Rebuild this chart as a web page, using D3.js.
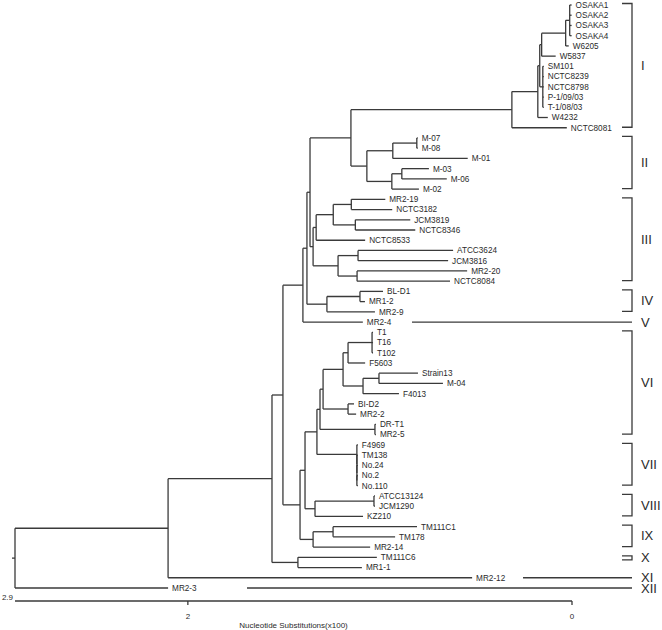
<!DOCTYPE html>
<html><head><meta charset="utf-8">
<script src="https://cdn.jsdelivr.net/npm/d3@7"></script>
<style>body{margin:0;background:#fff;} text{font-family:"Liberation Sans",Arial,sans-serif;}</style>
</head><body><svg id="c" width="662" height="630"></svg>
<script>
// Tree table: [id, parent, branch length (nucleotide substitutions x100)]
const treeNodes = [
["root","",0],
["A","root",0.797],
["B","A",0.541],
["C","B",0.057],
["Q","C",0.104],
["R","Q",0.021],
["S","R",0.016],
["N12","S",0.213],
["CI","N12",0.838],
["N1","CI",0.135],
["N2","N1",0.010],
["N3","N2",0.010],
["N4","N3",0.125],
["OSg","N4",0.021],
["OSAKA1","OSg",0.010],["OSAKA2","OSg",0.010],["OSAKA3","OSg",0.010],["OSAKA4","OSg",0.010],
["W6205","N4",0.016],
["W5837","N3",0.073],
["SMg","N2",0.016],
["SM101","SMg",0.005],["NCTC8239","SMg",0.005],["NCTC8798","SMg",0.005],["P-1/09/03","SMg",0.005],["T-1/08/03","SMg",0.005],
["W4232","N1",0.052],
["NCTC8081","CI",0.286],
["CII","N12",0.083],
["CIIa","CII",0.135],
["M78","CIIa",0.125],
["M-07","M78",0.005],["M-08","M78",0.005],
["M-01","CIIa",0.390],
["CIIb","CII",0.130],
["M36","CIIb",0.052],
["M-03","M36",0.141],["M-06","M36",0.234],
["M-02","CIIb",0.141],
["U","S",0.016],
["V","U",0.016],
["N333","V",0.089],
["Na","N333",0.094],["MR2-19","Na",0.177],["NCTC3182","Na",0.213],
["Nb","N333",0.115],["JCM3819","Nb",0.286],["NCTC8346","Nb",0.312],
["NCTC8533","V",0.255],
["W","U",0.130],
["Wa","W",0.104],["ATCC3624","Wa",0.495],["JCM3816","Wa",0.469],
["Wb","W",0.099],["MR2-20","Wb",0.573],["NCTC8084","Wb",0.484],
["BLg","R",0.104],
["BLs","BLg",0.172],["BL-D1","BLs",0.120],["MR1-2","BLs",0.026],
["MR2-9","BLg",0.250],
["MR2-4","Q",0.312],
["D","C",0.089],
["E","D",0.026],
["G","E",0.062],
["L","G",0.016],
["K","L",0.016],
["J","K",0.104],
["Tg","J",0.026],
["Tt","Tg",0.125],["T1","Tt",0.005],["T16","Tt",0.005],["T102","Tt",0.005],
["F5603","Tg",0.089],
["Sg","J",0.104],
["SM","Sg",0.083],["Strain13","SM",0.203],["M-04","SM",0.333],
["F4013","Sg",0.187],
["BI","K",0.130],["BI-D2","BI",0.031],["MR2-2","BI",0.042],
["DR","L",0.286],["DR-T1","DR",0.005],["MR2-5","DR",0.005],
["Fg","G",0.208],
["F4969","Fg",0.005],
["Fg2","Fg",0.0],["TM138","Fg2",0.005],
["Fg3","Fg2",0.0],["No.24","Fg3",0.005],
["Fg4","Fg3",0.0],["No.2","Fg4",0.005],["No.110","Fg4",0.005],
["H","E",0.052],
["Ha","H",0.307],["ATCC13124","Ha",0.005],["JCM1290","Ha",0.005],
["KZ210","H",0.250],
["F","D",0.068],
["TMg","F",0.104],["TM111C1","TMg",0.437],["TM178","TMg",0.323],
["MR2-14","F",0.297],
["X","B",0.135],["TM111C6","X",0.411],["MR1-1","X",0.333],
["MR2-12","A",1.583],
["MR2-3","root",0.797]
];

// Clade brackets
const bracketNames = ["I","II","III","IV","VI","VII","VIII","IX","X"];
const bracketFirst = ["OSAKA1","M-07","MR2-19","BL-D1","T1","F4969","ATCC13124","TM111C1","TM111C6"];
const bracketLast  = ["NCTC8081","M-02","NCTC8084","MR2-9","MR2-5","No.110","KZ210","MR2-14","TM111C6"];
// Single-line clades: leaf, start of guide line (in axis distance units)
const lineNames = ["V","XI","XII"];
const lineLeaf = ["MR2-4","MR2-12","MR2-3"];
const lineStart = [2.067, 2.645, 1.208];

// Scale bar
const axisTicks = [2, 0];
const axisEnd = 2.9;
const axisTitle = "Nucleotide Substitutions(x100)";

const svg = d3.select("#c");
const lineColor = "#3a3a3a";
const textColor = "#2a2a2a";

const root = d3.stratify().id(d => d[0]).parentId(d => d[1] || null)(treeNodes);
root.eachBefore(n => { n.dist = n.parent ? n.parent.dist + n.data[2] : 0; });

const x = d3.scaleLinear().domain([0, axisEnd]).range([15, 572]);
const leaves = root.leaves();
const y = d3.scaleLinear().domain([0, leaves.length - 1]).range([5, 588]);
leaves.forEach((l, i) => l.yy = y(i));
root.eachAfter(n => {
  if (n.children) n.yy = (n.children[0].yy + n.children[n.children.length - 1].yy) / 2;
});

const g = svg.append("g").attr("stroke", lineColor).attr("stroke-width", 1.3).attr("fill", "none");
// root stub
g.append("line").attr("x1", x(0) - 3).attr("x2", x(0)).attr("y1", root.yy).attr("y2", root.yy);
root.descendants().forEach(n => {
  if (n.parent) {
    g.append("line").attr("x1", x(n.parent.dist)).attr("x2", x(n.dist)).attr("y1", n.yy).attr("y2", n.yy);
  }
  if (n.children) {
    g.append("line").attr("x1", x(n.dist)).attr("x2", x(n.dist))
      .attr("y1", n.children[0].yy).attr("y2", n.children[n.children.length - 1].yy);
  }
});

svg.append("g").selectAll("text").data(leaves).join("text")
  .attr("x", d => x(d.dist) + 4).attr("y", d => d.yy)
  .attr("dy", "0.35em").attr("font-size", 8.2).attr("fill", textColor)
  .text(d => d.id);

const leafY = {};
leaves.forEach(l => leafY[l.id] = l.yy);

const bx = 632, bt = 10;
const bg = svg.append("g");
bracketNames.forEach((name, i) => {
  const y1 = leafY[bracketFirst[i]] - 1.5;
  let y2 = leafY[bracketLast[i]] - 0.5;
  if (y2 - y1 < 4) y2 = y1 + 4;
  bg.append("path").attr("d", `M${bx - bt},${y1}H${bx}V${y2}H${bx - bt}`)
    .attr("fill", "none").attr("stroke", lineColor).attr("stroke-width", 1.3);
  bg.append("text").attr("x", bx + 9).attr("y", (y1 + y2) / 2).attr("dy", "0.35em")
    .attr("font-size", 13).attr("fill", textColor).text(name);
});
lineNames.forEach((name, i) => {
  const yy = leafY[lineLeaf[i]];
  bg.append("line").attr("x1", x(lineStart[i])).attr("x2", bx).attr("y1", yy).attr("y2", yy)
    .attr("stroke", lineColor).attr("stroke-width", 1.3);
  bg.append("text").attr("x", bx + 9).attr("y", yy).attr("dy", "0.35em")
    .attr("font-size", 13).attr("fill", textColor).text(name);
});

// Scale bar axis
const xa = d3.scaleLinear().domain([axisEnd, 0]).range([15, 572]);
const ay = 601;
const ag = svg.append("g");
ag.append("line").attr("x1", xa(axisEnd)).attr("x2", xa(0)).attr("y1", ay).attr("y2", ay)
  .attr("stroke", lineColor).attr("stroke-width", 1.3);
axisTicks.forEach(t => {
  ag.append("line").attr("x1", xa(t)).attr("x2", xa(t)).attr("y1", ay).attr("y2", ay + 4)
    .attr("stroke", lineColor).attr("stroke-width", 1.3);
  ag.append("text").attr("x", xa(t)).attr("y", ay + 15).attr("dy", "0.35em")
    .attr("text-anchor", "middle").attr("font-size", 8).attr("fill", textColor).text(t);
});
ag.append("text").attr("x", xa(axisEnd) - 2).attr("y", ay - 4).attr("dy", "0.35em")
  .attr("text-anchor", "end").attr("font-size", 8).attr("fill", textColor).text(axisEnd);
ag.append("text").attr("x", (xa(axisEnd) + xa(0)) / 2).attr("y", ay + 24).attr("dy", "0.35em")
  .attr("text-anchor", "middle").attr("font-size", 8).attr("fill", textColor).text(axisTitle);
</script></body></html>
